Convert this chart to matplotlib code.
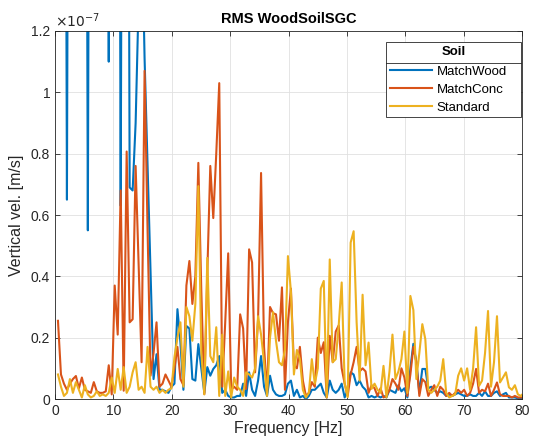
import numpy as np
import matplotlib
matplotlib.use('Agg')
import matplotlib.pyplot as plt
from matplotlib.lines import Line2D

plt.rcParams['font.family'] = ['Liberation Sans', 'DejaVu Sans']

# frequency of each sample (about 0.51 Hz apart)
freq = 0.51 + 0.5116 * np.arange(159)

# RMS vertical velocity, in units of 1e-8 m/s
# (values above 12 are clipped by the axis limit)
match_wood = [
    40, 40, 40, 6.5, 40, 40, 40, 40, 40, 40,
    5.5, 40, 40, 40, 40, 40, 40, 11.0, 40, 40,
    40, 6.3, 40, 40, 6.9, 6.8, 9.0, 13, 16, 11.1,
    7.6, 4.1, 0.65, 1.46, 0.3, 0.3, 0.25, 0.2, 0.4,
    0.5, 2.93, 1.84, 0.3, 2.38, 2.3, 0.65, 0.6, 1.79, 1.0,
    0.2, 1.04, 0.76, 0.98, 1.1, 1.4, 0.2, 0.3, 0.1, 0.05,
    0.05, 0.1, 0.1, 0.5, 0.1, 0.87, 0.3, 0.1, 0.6, 1.4,
    0.4, 0.1, 0.76, 0.3, 0.15, 0.1, 0.1, 0.15, 0.5, 0.6,
    0.1, 0.3, 0.05, 0.1, 0.0, 0.1, 0.3, 0.3, 0.4, 0.5,
    0.2, 0.05, 0.6, 0.3, 0.2, 0.3, 0.5, 0.05, 0.3, 0.87,
    0.8, 0.45, 0.6, 0.4, 0.3, 0.05, 0.1, 0.05, 0.1, 0.05,
    0.1, 0.05, 0.3, 0.25, 0.2, 0.45, 0.25, 0.35, 0.05, 1.0,
    1.8, 1.2, 0.2, 0.98, 0.98, 0.35, 0.4, 0.3, 0.2, 0.25,
    0.2, 0.1, 0.15, 0.1, 0.15, 0.2, 0.15, 0.1, 0.1, 0.15,
    0.1, 0.1, 0.2, 0.1, 0.25, 0.1, 0.1, 0.2, 0.25, 0.1,
    0.15, 0.2, 0.05, 0.05, 0.05, 0.02, 0.02, 0.02, 0.02, 0.02,
]
match_conc = [
    2.55, 0.8, 0.5, 0.3, 0.5, 0.65, 0.75, 0.35, 0.7, 0.3,
    0.25, 0.2, 0.55, 0.25, 0.2, 0.2, 0.25, 1.1, 0.15, 3.7,
    2.1, 6.8, 0.27, 8.07, 2.5, 2.6, 7.6, 4.4, 1.2, 10.7,
    5.5, 0.76, 1.5, 2.5, 0.4, 0.5, 0.8, 0.6, 0.4,
    1.0, 1.7, 0.65, 0.45, 3.7, 4.5, 3.1, 4.0, 7.7, 3.5,
    0.16, 4.1, 7.6, 5.9, 8.0, 10.3, 0.4, 2.5, 4.75, 0.3,
    0.4, 0.3, 2.76, 2.3, 0.33, 4.88, 4.45, 0.87, 2.6, 7.37,
    1.7, 0.2, 3.0, 2.8, 2.76, 1.9, 3.64, 0.3, 2.5, 3.6,
    1.1, 1.0, 1.7, 0.6, 0.1, 0.2, 0.55, 0.4, 2.0, 1.5,
    1.85, 0.05, 2.06, 1.2, 2.2, 2.4, 1.0, 0.5, 0.1, 0.8,
    1.2, 1.7, 0.9, 1.0, 0.9, 0.2, 0.45, 0.35, 0.1, 0.35,
    0.05, 0.1, 0.3, 0.65, 0.5, 0.3, 1.0, 0.7, 0.1, 0.8,
    1.7, 1.2, 0.1, 0.65, 0.55, 0.1, 0.3, 0.45, 0.1, 0.4,
    0.3, 0.1, 0.2, 0.1, 0.2, 0.3, 0.2, 0.3, 0.1, 0.2,
    0.5, 0.98, 0.2, 0.3, 0.25, 0.5, 0.1, 0.3, 0.54, 0.15,
    0.1, 0.1, 0.1, 0.05, 0.1, 0.05, 0.05, 0.05, 0.02, 0.02,
]
standard = [
    0.8, 0.4, 0.1, 0.2, 0.65, 0.2, 0.55, 0.3, 0.05, 0.45,
    0.15, 0.05, 0.1, 0.25, 0.1, 0.15, 0.1, 0.2, 0.7, 0.2,
    0.98, 0.3, 1.04, 0.2, 0.4, 0.87, 1.2, 0.3, 0.4, 0.2,
    1.7, 0.4, 0.3, 0.4, 0.2, 0.3, 0.2, 0.3, 0.35,
    1.36, 2.0, 2.5, 0.4, 3.0, 2.7, 1.9, 3.1, 6.94, 1.5,
    0.15, 4.6, 1.4, 1.2, 2.34, 0.1, 2.1, 0.1, 0.9, 0.05,
    0.7, 0.4, 0.3, 0.1, 0.87, 0.8, 0.7, 1.0, 2.7, 2.1,
    1.2, 0.1, 2.0, 2.83, 1.9, 1.2, 1.1, 1.6, 4.66, 3.5,
    0.8, 1.6, 1.3, 0.3, 0.05, 0.2, 1.3, 0.5, 1.0, 3.6,
    3.85, 0.05, 4.55, 1.2, 1.3, 2.4, 3.8, 0.5, 0.06, 5.1,
    5.47, 2.5, 0.6, 3.4, 1.1, 1.84, 0.33, 0.5, 0.3, 0.2,
    1.08, 0.05, 0.9, 2.1, 0.65, 0.9, 1.3, 2.2, 0.2, 3.36,
    2.9, 0.65, 1.5, 2.44, 1.95, 0.3, 0.2, 0.3, 0.4, 0.6,
    1.3, 0.2, 0.05, 0.1, 0.15, 0.76, 1.0, 0.6, 1.0, 0.3,
    1.0, 2.34, 0.43, 0.6, 1.5, 2.87, 0.4, 1.2, 2.7, 0.54,
    0.7, 0.87, 0.38, 0.3, 0.45, 0.15, 0.1, 0.2, 0.1, 0.1,
]

series = [('MatchWood', match_wood, '#0072BD'),
          ('MatchConc', match_conc, '#D95319'),
          ('Standard', standard, '#EDB120')]

axcol = '#262626'
W, H = 533, 448
fig = plt.figure(figsize=(W / 100, H / 100), dpi=100)
ax = fig.add_axes([55 / W, (H - 399) / H, 467 / W, 368 / H])

for name, vals, col in series:
    ax.plot(freq, np.array(vals) * 1e-8, color=col, lw=1.5, label=name)

ax.set_xlim(0, 80)
ax.set_ylim(0, 1.2e-7)
ax.set_xticks(np.arange(0, 81, 10))
yt = np.arange(0, 1.21, 0.2)
ax.set_yticks(yt * 1e-7)
ax.set_yticklabels(['0' if v == 0 else '%g' % round(v, 1) for v in yt])
ax.text(0, 1.004, r'$\times10^{-7}$', transform=ax.transAxes,
        ha='left', va='bottom', fontsize=10, color=axcol)

ax.grid(True, color='#e0e0e0', lw=0.6)
ax.set_axisbelow(True)
ax.tick_params(direction='in', top=True, right=True, length=3.5,
               width=0.6, colors=axcol, labelsize=10)
for s in ax.spines.values():
    s.set_color(axcol)
    s.set_linewidth(0.6)

ax.set_xlabel('Frequency [Hz]', fontsize=11.5, color=axcol, labelpad=2)
ax.set_ylabel('Vertical vel. [m/s]', fontsize=11.5, color=axcol, labelpad=5)
ax.set_title('RMS WoodSoilSGC', fontsize=10.5, fontweight='bold', color='black', pad=6)

leg = ax.legend(title='Soil', loc='upper right', mode='expand',
                bbox_to_anchor=(0.7088, 0.7609, 0.2891, 0.2092),
                borderaxespad=0, fancybox=False, framealpha=1,
                edgecolor=axcol, fontsize=9.5, handlelength=3.2,
                handletextpad=0.35, labelspacing=0.42, borderpad=0.3)
leg.get_frame().set_linewidth(0.6)
leg.get_title().set_fontweight('bold')
leg.get_title().set_fontsize(9.5)
leg._legend_box.sep = 5.6

fig.canvas.draw()
bb = leg.get_window_extent()
yl = bb.y1 - 20.7
inv = fig.transFigure.inverted()
p0 = inv.transform((bb.x0, yl))
p1 = inv.transform((bb.x1, yl))
fig.add_artist(Line2D([p0[0], p1[0]], [p0[1], p1[1]], color=axcol, lw=0.6))

fig.savefig('out.png', dpi=100)
